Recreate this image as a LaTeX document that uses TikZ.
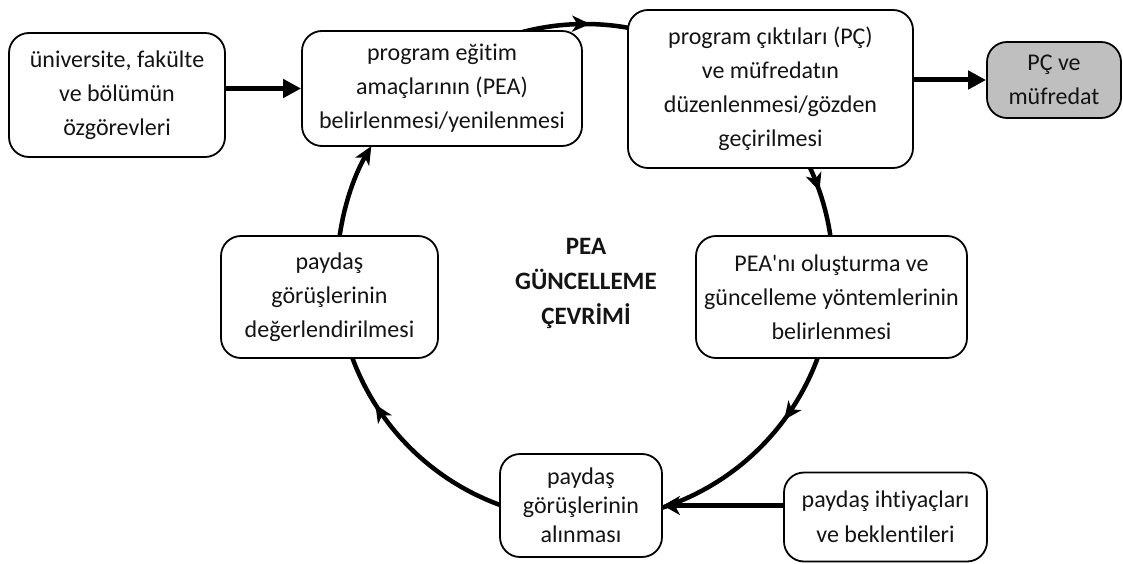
\documentclass[tikz,border=0pt]{standalone}
\usepackage{fontspec}
\setmainfont{Carlito}[Ligatures={NoCommon}]
\usetikzlibrary{arrows.meta,decorations.markings,calc}
\definecolor{boxgray}{HTML}{BFBFBF}
\tikzset{
  box/.style={draw, line width=1.8pt, rounded corners=20pt, fill=white, align=center, inner sep=0pt, text=black!92,
    font=\fontsize{24}{34}\selectfont},
  straightarrow/.style={line width=5pt, -{Triangle[length=18pt,width=18pt]}},
  inarrow/.style={line width=5pt, -{Stealth[length=17pt,width=19pt,inset=5pt]}},
  cyc/.style={line width=4.5pt},
  midarrow/.style={postaction={decorate}, decoration={markings, mark=at position #1 with {\arrow{Stealth[length=18pt,width=16pt,inset=5pt]}}}}
}
\begin{document}
\begin{tikzpicture}[x=1pt,y=1pt]
\useasboundingbox (0,0) rectangle (1123,563);
\coordinate (cen) at (585,291);
% cycle arcs (drawn below boxes)
\draw[cyc, midarrow=0.6] ($(cen)+(108:248)$) arc[start angle=108, end angle=76, radius=248];
\draw[cyc, midarrow=0.35] ($(cen)+(26:248)$) arc[start angle=26, end angle=6, radius=248];
\draw[cyc, midarrow=0.35] ($(cen)+(-17:248)$) arc[start angle=-17, end angle=-73, radius=248];
\draw[cyc, midarrow=0.71] ($(cen)+(-108:248)$) arc[start angle=-108, end angle=-164, radius=248];
\draw[cyc, -{Stealth[length=18pt,width=16pt,inset=5pt]}] ($(cen)+(174:248)$) arc[start angle=174, end angle=149.5, radius=248];
% boxes
\node[box, minimum width=216pt, minimum height=124pt] (b1) at (117,468) {üniversite, fakülte\\ve bölümün\\özgörevleri};
\node[box, minimum width=280pt, minimum height=115pt] (b2) at (442,474.5) {program eğitim\\amaçlarının (PEA)\\belirlenmesi/yenilenmesi};
\node[box, minimum width=285pt, minimum height=158pt] (b3) at (770.5,474) {program çıktıları (PÇ)\\ve müfredatın\\düzenlenmesi/gözden\\geçirilmesi};
\node[box, fill=boxgray, minimum width=134pt, minimum height=76pt] (b4) at (1054,483) {PÇ ve\\müfredat};
\node[box, minimum width=271pt, minimum height=122pt] (b5) at (831.5,266) {PEA\textquotesingle nı oluşturma ve\\güncelleme yöntemlerinin\\belirlenmesi};
\node[box, minimum width=217pt, minimum height=122pt] (b6) at (329.5,266) {paydaş\\görüşlerinin\\değerlendirilmesi};
\node[box, minimum width=162pt, minimum height=103pt, font=\fontsize{24}{29}\selectfont] (b7) at (581,57.5) {paydaş\\görüşlerinin\\alınması};
\node[box, minimum width=203pt, minimum height=89pt, font=\fontsize{24}{35}\selectfont] (b8) at (885.5,46) {paydaş ihtiyaçları\\ve beklentileri};
\node[align=center, font=\bfseries\fontsize{25}{35}\selectfont, text=black!92] (title) at (586,280) {PEA\\GÜNCELLEME\\ÇEVRİMİ};
% straight arrows
\draw[straightarrow] (b1.east |- b2.west) -- (b2.west);
\draw[straightarrow] (b3.east |- b4.west) -- (b4.west);
\draw[inarrow] (b8.west |- b7.east) -- (b7.east);
\end{tikzpicture}
\end{document}
